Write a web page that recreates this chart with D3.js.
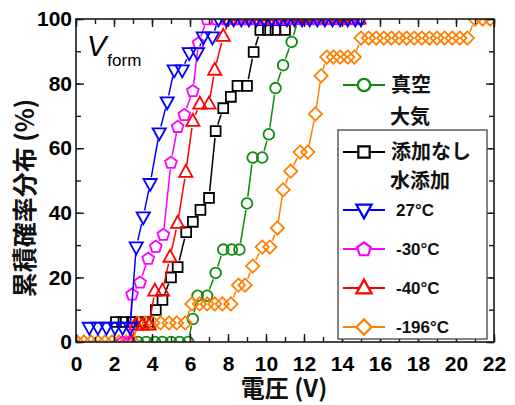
<!DOCTYPE html>
<html>
<head>
<meta charset="utf-8">
<script src="https://cdn.jsdelivr.net/npm/d3@7/dist/d3.min.js"></script>
<style>
  html, body { margin: 0; padding: 0; background: #fff; }
  svg { display: block; }
</style>
</head>
<body>
<svg id="chart" width="515" height="405"></svg>
<script>
// Cumulative distribution of forming voltage (V) for each condition.
// Voltages [V] and cumulative probabilities [%] per series.
const vacuumV = [3.25, 3.7, 4.15, 4.55, 5.0, 5.45, 5.9, 6.15, 6.4, 6.9, 7.35, 7.75, 8.2, 8.6, 9.0, 9.3, 9.8, 10.15, 10.5, 10.9, 11.35, 11.7];
const vacuumP = [0, 0, 0, 0, 0, 0, 0, 7.1, 14.3, 14.3, 21.4, 28.6, 28.6, 28.6, 42.9, 57.1, 57.1, 64.3, 78.6, 85.7, 92.9, 100];

const noAddV = [2.1, 2.5, 2.95, 3.35, 3.8, 4.2, 4.55, 5.0, 5.35, 5.8, 6.15, 6.55, 7.0, 7.35, 7.75, 8.15, 8.5, 9.0, 9.35, 9.7, 10.1, 10.5, 11.0, 11.3, 11.7, 12.1, 12.5, 12.9, 13.3, 13.7, 14.1, 14.5, 14.9];
const noAddP = [6.2, 6.2, 6.2, 6.2, 6.2, 9.9, 13.0, 20.0, 23.2, 34.0, 37.2, 40.9, 44.6, 65.3, 72.4, 75.9, 79.3, 79.3, 89.8, 96.6, 96.6, 96.6, 96.6, 100, 100, 100, 100, 100, 100, 100, 100, 100, 100];

const w27V = [0.7, 1.15, 1.6, 2.05, 2.45, 2.85, 3.17, 3.54, 3.9, 4.38, 4.8, 5.17, 5.59, 5.96, 6.39, 6.7, 7.18, 7.5, 7.9, 8.3, 8.7, 9.1, 9.5, 9.9, 10.3, 10.7, 11.1, 11.5, 11.9, 12.3, 12.7, 13.1, 13.5, 13.9, 14.3, 14.7, 15.0];
const w27P = [4.5, 4.5, 4.5, 4.5, 4.5, 4.5, 29.4, 38.7, 49.0, 64.7, 74.3, 84.2, 84.2, 89.5, 89.5, 94.4, 94.4, 100, 100, 100, 100, 100, 100, 100, 100, 100, 100, 100, 100, 100, 100, 100, 100, 100, 100, 100, 100];

const w30V = [2.45, 2.8, 2.95, 3.37, 3.8, 4.2, 4.6, 5.0, 5.35, 5.7, 6.15, 6.45, 6.9, 7.4, 7.9, 8.4, 8.9, 9.4, 9.9, 10.4, 10.9, 11.4, 11.9, 12.4, 12.9, 13.4, 13.9, 14.4, 14.9];
const w30P = [0, 0, 14.8, 18.5, 25.9, 29.6, 33.3, 55.6, 66.7, 70.4, 77.8, 92.6, 100, 100, 100, 100, 100, 100, 100, 100, 100, 100, 100, 100, 100, 100, 100, 100, 100];

const w40V = [2.9, 3.15, 3.5, 3.85, 4.15, 4.55, 4.95, 5.35, 5.78, 6.15, 6.52, 7.0, 7.3, 7.75, 8.1, 8.5, 8.9, 9.3, 9.7, 10.1, 10.5, 10.9, 11.3, 11.7, 12.1, 12.5, 12.9, 13.3, 13.7, 14.1, 14.5, 14.9];
const w40P = [0, 5.3, 5.3, 5.3, 15.8, 15.8, 26.3, 36.8, 52.6, 68.4, 73.7, 73.7, 84.2, 94.7, 100, 100, 100, 100, 100, 100, 100, 100, 100, 100, 100, 100, 100, 100, 100, 100, 100, 100];

const w196V = [0.05, 0.42, 0.79, 1.16, 1.53, 1.9, 2.27, 2.64, 3.0, 3.25, 3.65, 4.05, 4.45, 4.9, 5.3, 5.75, 6.1, 6.5, 6.9, 7.3, 7.7, 8.15, 8.55, 8.9, 9.3, 9.8, 10.2, 10.6, 10.9, 11.3, 11.8, 12.2, 12.6, 12.9, 13.2, 13.55, 13.9, 14.3, 14.65, 15.0, 15.4, 15.8, 16.2, 16.6, 17.0, 17.4, 17.8, 18.2, 18.6, 19.0, 19.4, 19.8, 20.2, 20.6, 21.0, 21.4, 21.8];
const w196P = [0, 0, 0, 0, 0, 0, 0, 0, 0, 5.9, 5.9, 5.9, 5.9, 5.9, 5.9, 5.9, 11.8, 11.8, 11.8, 11.8, 11.8, 11.8, 17.6, 17.6, 23.5, 29.4, 29.4, 35.3, 47.1, 52.9, 58.8, 58.8, 70.6, 82.4, 88.2, 88.2, 88.2, 88.2, 88.2, 94.1, 94.1, 94.1, 94.1, 94.1, 94.1, 94.1, 94.1, 94.1, 94.1, 94.1, 94.1, 94.1, 94.1, 94.1, 100, 100, 100];

const xTicks = [0, 2, 4, 6, 8, 10, 12, 14, 16, 18, 20, 22];
const yTicks = [0, 20, 40, 60, 80, 100];

const series = [
  { name: "真空", v: vacuumV, p: vacuumP, color: "#0f8a0f", shape: "circle" },
  { name: "添加なし", v: noAddV, p: noAddP, color: "#000000", shape: "square" },
  { name: "-196°C", v: w196V, p: w196P, color: "#ff7f00", shape: "diamond" },
  { name: "-40°C", v: w40V, p: w40P, color: "#ff0000", shape: "triUp" },
  { name: "-30°C", v: w30V, p: w30P, color: "#ff00ff", shape: "pentagon" },
  { name: "27°C", v: w27V, p: w27P, color: "#0000ff", shape: "triDown" }
];

const svg = d3.select("#chart");
const plotL = 76, plotR = 494, plotT = 19, plotB = 342;
const x = d3.scaleLinear().domain([0, 22]).range([plotL, plotR]);
const y = d3.scaleLinear().domain([0, 100]).range([plotB, plotT]);

// marker outlines, centred on the origin; k scales them up for the legend
function shapePath(shape, k) {
  k = (k || 1) * 1.07;
  const pts = (arr) => "M" + arr.map(p => (p[0] * k).toFixed(2) + "," + (p[1] * k).toFixed(2)).join("L") + "Z";
  switch (shape) {
    case "circle": {
      const r = 5 * k;
      return `M${r},0A${r},${r} 0 1,1 ${-r},0A${r},${r} 0 1,1 ${r},0Z`;
    }
    case "square": return pts([[-4.6, -4.6], [4.6, -4.6], [4.6, 4.6], [-4.6, 4.6]]);
    case "diamond": return pts([[0, -6.2], [6.2, 0], [0, 6.2], [-6.2, 0]]);
    case "triUp": return pts([[0, -6.8], [6.2, 4.4], [-6.2, 4.4]]);
    case "triDown": return pts([[0, 6.8], [6.2, -4.4], [-6.2, -4.4]]);
    case "pentagon": {
      const a = d3.range(5).map(i => {
        const t = -Math.PI / 2 + i * 2 * Math.PI / 5;
        return [5.8 * Math.cos(t), 5.8 * Math.sin(t) + 0.4];
      });
      return pts(a);
    }
  }
}

// clip region for the data
svg.append("defs").append("clipPath").attr("id", "plotClip")
  .append("rect").attr("x", plotL).attr("y", plotT)
  .attr("width", plotR - plotL).attr("height", plotB - plotT);

const plot = svg.append("g").attr("clip-path", "url(#plotClip)");
const gap = 6.8;

series.forEach(s => {
  const pts = s.v.map((v, i) => [x(v), y(s.p[i])]);
  const segs = [];
  for (let i = 1; i < pts.length; i++) {
    const [x1, y1] = pts[i - 1], [x2, y2] = pts[i];
    const d = Math.hypot(x2 - x1, y2 - y1);
    if (d <= 2 * gap) continue;
    const ux = (x2 - x1) / d, uy = (y2 - y1) / d;
    segs.push([x1 + ux * gap, y1 + uy * gap, x2 - ux * gap, y2 - uy * gap]);
  }
  const g = plot.append("g");
  g.selectAll("line").data(segs).join("line")
    .attr("x1", d => d[0]).attr("y1", d => d[1])
    .attr("x2", d => d[2]).attr("y2", d => d[3])
    .attr("stroke", s.color).attr("stroke-width", 1.5);
  g.selectAll("path").data(pts).join("path")
    .attr("transform", d => `translate(${d[0]},${d[1]})`)
    .attr("d", shapePath(s.shape))
    .attr("fill", "none").attr("stroke", s.color).attr("stroke-width", 1.8);
});

// axes: inward ticks on all four sides, labels on bottom and left
const axisColor = "#1a1a1a";
const minorX = d3.range(0, 23, 1), minorY = d3.range(0, 101, 10);
function styleAxis(g) {
  g.select(".domain").remove();
  g.selectAll(".tick line").attr("stroke", axisColor).attr("stroke-width", 1.4);
}
svg.append("g").attr("transform", `translate(0,${plotB})`)
  .call(d3.axisBottom(x).tickValues(minorX).tickSize(-5).tickFormat(""))
  .call(styleAxis);
const xAxis = svg.append("g").attr("transform", `translate(0,${plotB})`)
  .call(d3.axisBottom(x).tickValues(xTicks).tickSize(-8).tickPadding(14).tickFormat(d3.format("d")))
  .call(styleAxis);
svg.append("g").attr("transform", `translate(0,${plotT})`)
  .call(d3.axisTop(x).tickValues(minorX).tickSize(-5).tickFormat(""))
  .call(styleAxis);
svg.append("g").attr("transform", `translate(0,${plotT})`)
  .call(d3.axisTop(x).tickValues(xTicks).tickSize(-8).tickFormat(""))
  .call(styleAxis);
svg.append("g").attr("transform", `translate(${plotL},0)`)
  .call(d3.axisLeft(y).tickValues(minorY).tickSize(-5).tickFormat(""))
  .call(styleAxis);
const yAxis = svg.append("g").attr("transform", `translate(${plotL},0)`)
  .call(d3.axisLeft(y).tickValues(yTicks).tickSize(-8).tickPadding(4).tickFormat(d3.format("d")))
  .call(styleAxis);
svg.append("g").attr("transform", `translate(${plotR},0)`)
  .call(d3.axisRight(y).tickValues(minorY).tickSize(-5).tickFormat(""))
  .call(styleAxis);
svg.append("g").attr("transform", `translate(${plotR},0)`)
  .call(d3.axisRight(y).tickValues(yTicks).tickSize(-8).tickFormat(""))
  .call(styleAxis);

[xAxis, yAxis].forEach(a => a.selectAll(".tick text")
  .attr("font-family", "'Liberation Sans', Arial, sans-serif")
  .attr("font-weight", "bold").attr("font-size", 21).attr("fill", "#000"));

svg.append("rect").attr("x", plotL).attr("y", plotT)
  .attr("width", plotR - plotL).attr("height", plotB - plotT)
  .attr("fill", "none").attr("stroke", axisColor).attr("stroke-width", 1.6);

// axis titles
const cjk = "'Noto Sans CJK JP', 'Noto Sans CJK SC', sans-serif";
svg.append("text").attr("x", 284).attr("y", 397)
  .attr("text-anchor", "middle").attr("font-family", cjk)
  .attr("font-weight", "bold").attr("font-size", 24).attr("fill", "#111")
  .text("電圧 (V)");
svg.append("text").attr("transform", "translate(34,198) rotate(-90)")
  .attr("text-anchor", "middle").attr("font-family", cjk)
  .attr("font-weight", "bold").attr("font-size", 25).attr("fill", "#111")
  .text("累積確率分布 (%)");

// panel label
const vf = svg.append("text").attr("x", 87).attr("y", 56)
  .attr("font-family", "'Liberation Sans', Arial, sans-serif").attr("fill", "#000");
vf.append("tspan").attr("font-style", "italic").attr("font-size", 29).text("V");
vf.append("tspan").attr("font-size", 17).attr("dx", 1).attr("dy", 10).text("form");

// legend
const legend = svg.append("g");
legend.append("rect").attr("x", 338).attr("y", 130).attr("width", 149).attr("height", 209)
  .attr("fill", "#fff").attr("stroke", "#444").attr("stroke-width", 1.3);

function legendItem(s, cy, label, font) {
  legend.append("line").attr("x1", 343).attr("x2", 385).attr("y1", cy).attr("y2", cy)
    .attr("stroke", s.color).attr("stroke-width", 1.8);
  legend.append("path").attr("transform", `translate(364,${cy})`)
    .attr("d", shapePath(s.shape, 1.15))
    .attr("fill", "#fff").attr("stroke", s.color).attr("stroke-width", 2.2);
  legend.append("text").attr("x", font === "cjk" ? 391 : 396).attr("y", cy)
    .attr("dy", "0.36em")
    .attr("font-family", font === "cjk" ? cjk : "'Liberation Sans', Arial, sans-serif")
    .attr("font-weight", "bold").attr("font-size", font === "cjk" ? 20 : 17)
    .attr("fill", "#111").text(label);
}
function legendHeading(cy, label) {
  legend.append("text").attr("x", 390).attr("y", cy).attr("dy", "0.36em")
    .attr("font-family", cjk).attr("font-weight", "bold").attr("font-size", 20)
    .attr("fill", "#111").text(label);
}
const byName = n => series.find(s => s.name === n);
legendItem(byName("真空"), 85, "真空", "cjk");
legendHeading(117, "大気");
legendItem(byName("添加なし"), 152, "添加なし", "cjk");
legendHeading(181, "水添加");
legendItem(byName("27°C"), 210, "27°C", "latin");
legendItem(byName("-30°C"), 249, "-30°C", "latin");
legendItem(byName("-40°C"), 288, "-40°C", "latin");
legendItem(byName("-196°C"), 327, "-196°C", "latin");
</script>
</body>
</html>
